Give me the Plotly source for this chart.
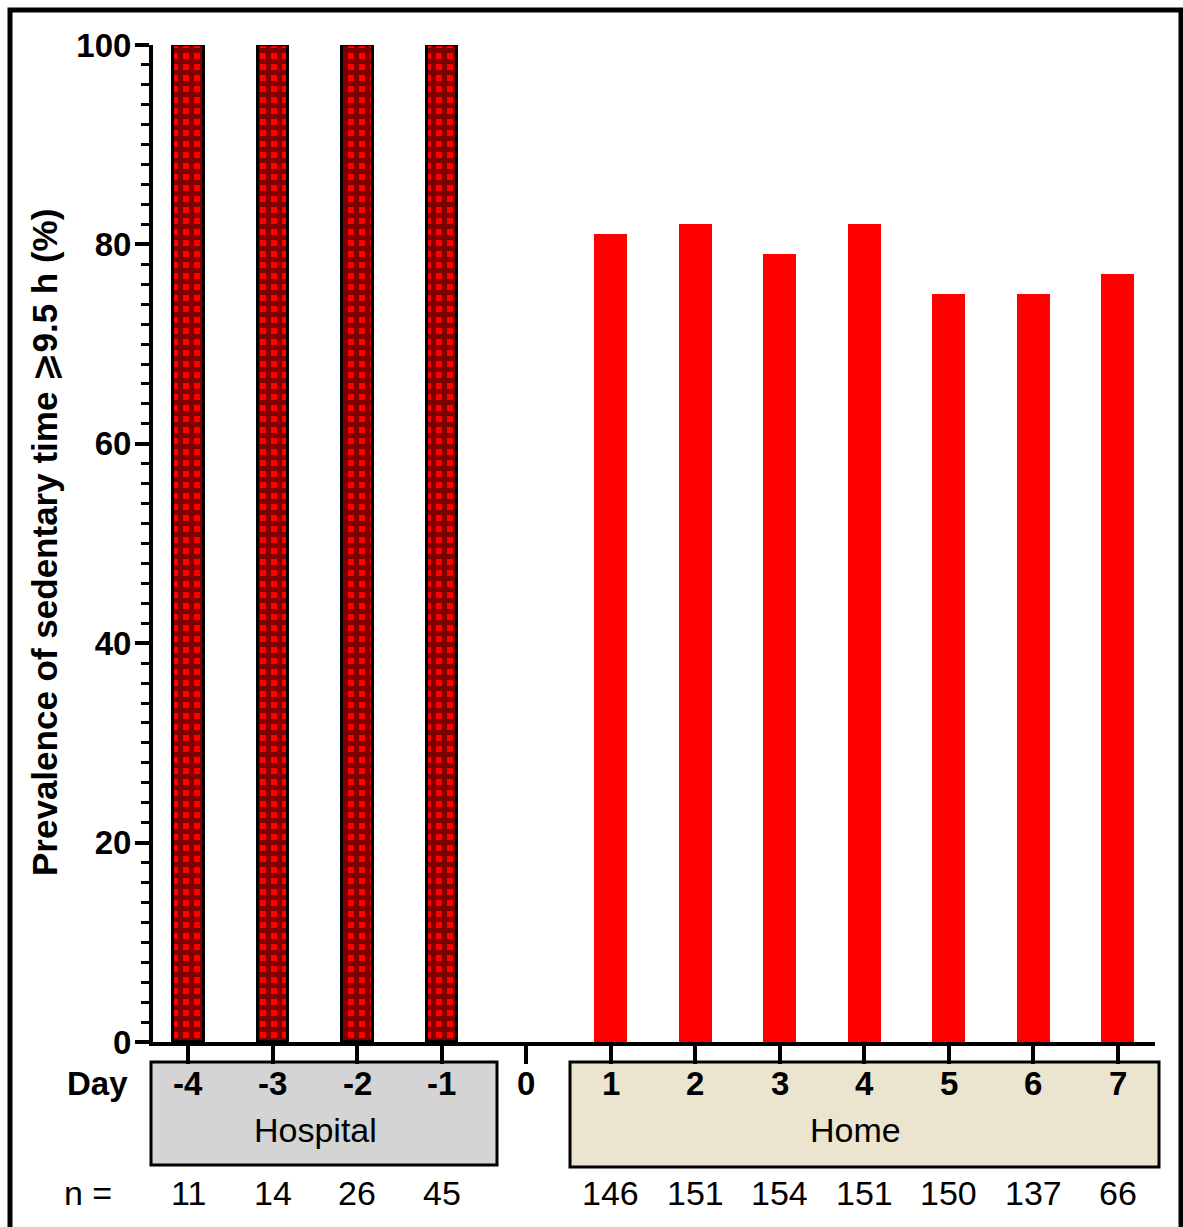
import plotly.graph_objects as go

# Day relative to discharge and prevalence (%) of sedentary time >= 9.5 h
hospital_days = [-4, -3, -2, -1]
hospital_prev = [100, 100, 100, 100]
hospital_n = ["11", "14", "26", "45"]

home_days = [1, 2, 3, 4, 5, 6, 7]
home_prev = [81, 82, 79, 82, 75, 75, 77]
home_n = ["146", "151", "154", "151", "150", "137", "66"]

all_days = [-4, -3, -2, -1, 0, 1, 2, 3, 4, 5, 6, 7]

W, H = 1183, 1227
L, R, T, B = 153, 1155, 45, 1042  # plot area in pixels
FONT = "Liberation Sans, Arial, DejaVu Sans, sans-serif"


def px(xp):
    return (xp - L) / (R - L)


def py(yp):
    return (B - yp) / (B - T)


fig = go.Figure()

fig.add_trace(go.Bar(
    x=hospital_days, y=hospital_prev, width=0.36,
    marker=dict(
        color="red",
        line=dict(color="black", width=3),
        pattern=dict(shape="+", bgcolor="red", fgcolor="black",
                     size=11, solidity=0.7),
    ),
    showlegend=False,
))

fig.add_trace(go.Bar(
    x=home_days, y=home_prev, width=0.39,
    marker=dict(color="#ff0000", line=dict(width=0)),
    showlegend=False,
))

shapes = [
    # group boxes under the axis
    dict(type="rect", xref="paper", yref="paper",
         x0=px(151), x1=px(497), y0=py(1062), y1=py(1165),
         fillcolor="#d4d4d4", line=dict(color="black", width=3), layer="below"),
    dict(type="rect", xref="paper", yref="paper",
         x0=px(570), x1=px(1159), y0=py(1062), y1=py(1167),
         fillcolor="#ebe5cf", line=dict(color="black", width=3), layer="below"),
    # outer frame
    dict(type="rect", xref="paper", yref="paper",
         x0=px(10), x1=px(1181), y0=py(10), y1=py(1240),
         fillcolor="rgba(0,0,0,0)", line=dict(color="black", width=5)),
]

annotations = []
for d in all_days:
    annotations.append(dict(
        x=d, xref="x", y=py(1083), yref="paper", text=f"<b>{d}</b>",
        showarrow=False, font=dict(size=33, color="black", family=FONT),
        xanchor="center", yanchor="middle"))

for d, n in zip(hospital_days + home_days, hospital_n + home_n):
    annotations.append(dict(
        x=d, xref="x", y=py(1193), yref="paper", text=n,
        showarrow=False, font=dict(size=34, color="black", family=FONT),
        xanchor="center", yanchor="middle"))

annotations += [
    dict(x=px(97), xref="paper", y=py(1083), yref="paper", text="<b>Day</b>",
         showarrow=False, font=dict(size=33, color="black", family=FONT),
         xanchor="center", yanchor="middle"),
    dict(x=px(88), xref="paper", y=py(1193), yref="paper", text="n =",
         showarrow=False, font=dict(size=34, color="black", family=FONT),
         xanchor="center", yanchor="middle"),
    dict(x=px(315), xref="paper", y=py(1130), yref="paper", text="Hospital",
         showarrow=False, font=dict(size=34, color="black", family=FONT),
         xanchor="center", yanchor="middle"),
    dict(x=px(855), xref="paper", y=py(1130), yref="paper", text="Home",
         showarrow=False, font=dict(size=34, color="black", family=FONT),
         xanchor="center", yanchor="middle"),
    dict(x=px(44), xref="paper", y=py(543), yref="paper",
         text="<b>Prevalence of sedentary time \u2a7e9.5 h (%)</b>",
         textangle=-90, showarrow=False,
         font=dict(size=35, color="black", family=FONT),
         xanchor="center", yanchor="middle"),
]

fig.update_layout(
    width=W, height=H,
    margin=dict(l=L, r=W - R, t=T, b=H - B, pad=0),
    paper_bgcolor="white", plot_bgcolor="white",
    bargap=0, barmode="overlay",
    shapes=shapes, annotations=annotations,
    font=dict(family=FONT, color="black"),
)

fig.update_xaxes(
    range=[-4.42, 7.44], tickvals=all_days, showticklabels=False,
    showline=True, linecolor="black", linewidth=4,
    ticks="outside", ticklen=18, tickwidth=4, tickcolor="black",
    showgrid=False, zeroline=False, fixedrange=True,
)

fig.update_yaxes(
    range=[0, 100], tickvals=[0, 20, 40, 60, 80, 100],
    showline=True, linecolor="black", linewidth=4,
    ticks="outside", ticklen=14, tickwidth=4, tickcolor="black",
    tickfont=dict(size=33, color="black", family=FONT, weight="bold"),
    ticklabelstandoff=-3,
    minor=dict(dtick=2, ticks="outside", ticklen=8, tickwidth=3,
               tickcolor="black", showgrid=False),
    showgrid=False, zeroline=False, fixedrange=True,
)

fig.write_html("out.html")
